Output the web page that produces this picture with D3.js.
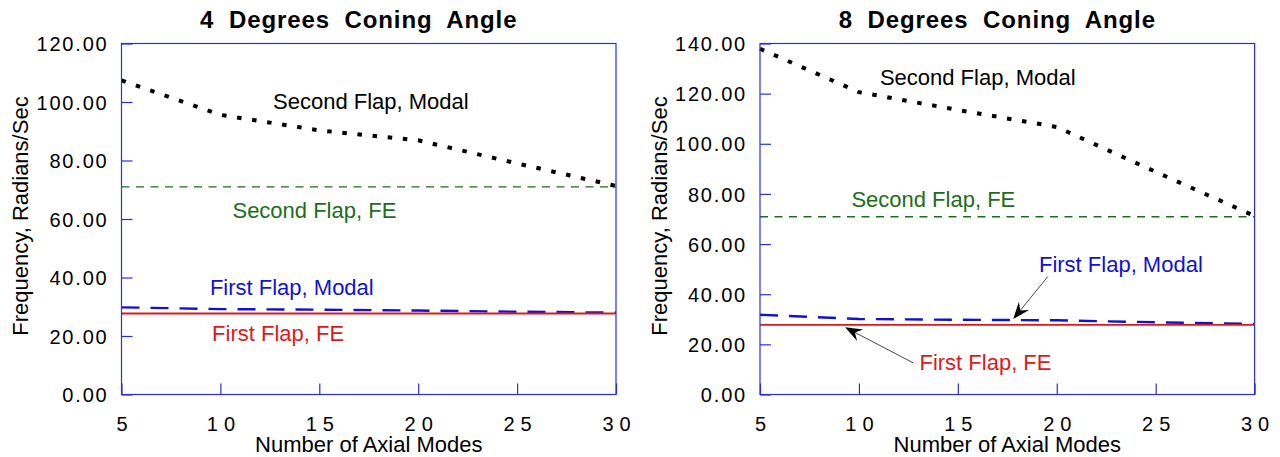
<!DOCTYPE html>
<html>
<head>
<meta charset="utf-8">
<script src="https://cdn.jsdelivr.net/npm/d3@7"></script>
<style>
  body { margin: 0; background: #fff; }
  svg text { font-family: "Liberation Sans", Arial, Helvetica, sans-serif; }
</style>
</head>
<body>
<svg id="chart" width="1280" height="457"></svg>
<script>
// x values (number of axial modes)
const axialModes = [5, 10, 15, 20, 25, 30];
const xTicks = [5, 10, 15, 20, 25, 30];

// 4 degrees coning angle
const secondModal4 = [107.4, 95.6, 90.3, 86.9, 79.0, 71.3];
const secondFE4 = [71.0, 71.0, 71.0, 71.0, 71.0, 71.0];
const firstModal4 = [29.8, 29.2, 29.0, 28.7, 28.3, 28.0];
const firstFE4 = [27.7, 27.7, 27.7, 27.7, 27.7, 27.7];
const yTicks4 = [0, 20, 40, 60, 80, 100, 120];

// 8 degrees coning angle
const secondModal8 = [137.9, 120.6, 113.5, 106.7, 88.8, 71.2];
const secondFE8 = [70.9, 70.9, 70.9, 70.9, 70.9, 70.9];
const firstModal8 = [31.8, 30.1, 29.8, 29.6, 28.8, 28.1];
const firstFE8 = [27.8, 27.8, 27.8, 27.8, 27.8, 27.8];
const yTicks8 = [0, 20, 40, 60, 80, 100, 120, 140];

// label text + anchor (data coords)
const labels4 = [
  { text: "Second Flap, Modal", x: 12.66, y: 97.5, color: "#000" },
  { text: "Second Flap, FE", x: 10.61, y: 60.3, color: "#1b6e1b" },
  { text: "First Flap, Modal", x: 9.47, y: 34.1, color: "#1010d8" },
  { text: "First Flap, FE", x: 9.58, y: 18.2, color: "#e01818" }
];
const labels8 = [
  { text: "Second Flap, Modal", x: 11.06, y: 123.3, color: "#000" },
  { text: "Second Flap, FE", x: 9.62, y: 74.9, color: "#1b6e1b" },
  { text: "First Flap, Modal", x: 19.1, y: 49.0, color: "#1010d8" },
  { text: "First Flap, FE", x: 13.06, y: 9.9, color: "#e01818" }
];
const arrows8 = [
  { x1: 19.55, y1: 47.05, x2: 17.8, y2: 30.1 },
  { x1: 12.75, y1: 12.6, x2: 9.3, y2: 26.8 }
];

const svg = d3.select("#chart");
const plotTop = 43.5, plotBottom = 394.5;
const axisColor = "#2b2bf0";

const styles = {
  secondModal: { stroke: "#000", width: 4, dash: "4.5 10.7" },
  secondFE: { stroke: "#1b6e1b", width: 1.4, dash: "8 6.5" },
  firstModal: { stroke: "#1010d8", width: 2.4, dash: "18 11" },
  firstFE: { stroke: "#e01818", width: 1.8, dash: null }
};

function drawPanel(p) {
  const x = d3.scaleLinear().domain([5, 30]).range([p.left, p.right]);
  const y = d3.scaleLinear().domain([0, p.yMax]).range([plotBottom, plotTop]);
  const g = svg.append("g");

  // title
  g.append("text")
    .attr("x", (p.left + p.right) / 2 - 10)
    .attr("y", 28)
    .attr("text-anchor", "middle")
    .style("font-size", "24px")
    .style("font-weight", "bold")
    .style("letter-spacing", "0.9px")
    .style("word-spacing", "7px")
    .text(p.title);

  // series
  const line = d3.line().x((d, i) => x(axialModes[i])).y(d => y(d));
  p.series.forEach(s => {
    const st = styles[s.key];
    g.append("path")
      .datum(s.values)
      .attr("d", line)
      .attr("fill", "none")
      .attr("stroke", st.stroke)
      .attr("stroke-width", st.width)
      .attr("stroke-dasharray", st.dash);
  });

  // box
  g.append("rect")
    .attr("x", p.left).attr("y", plotTop)
    .attr("width", p.right - p.left).attr("height", plotBottom - plotTop)
    .attr("fill", "none")
    .attr("stroke", axisColor)
    .attr("stroke-width", 1.2);

  // y axis (ticks inward)
  const yAxis = d3.axisLeft(y).tickValues(p.yTicks).tickSizeInner(-11).tickSizeOuter(0)
    .tickPadding(13).tickFormat(d3.format(".2f"));
  const ya = g.append("g").attr("transform", `translate(${p.left},0)`).call(yAxis);
  ya.select(".domain").remove();
  ya.selectAll("line").attr("stroke", axisColor).attr("stroke-width", 1.2);
  ya.selectAll("text")
    .attr("fill", "#000")
    .style("font-size", "20px")
    .style("letter-spacing", "1.8px")
    .attr("dy", "0.36em");

  // x axis (ticks inward)
  const xAxis = d3.axisBottom(x).tickValues(xTicks).tickSizeInner(-11).tickSizeOuter(0)
    .tickPadding(0);
  const xa = g.append("g").attr("transform", `translate(0,${plotBottom})`).call(xAxis);
  xa.select(".domain").remove();
  xa.selectAll("line").attr("stroke", axisColor).attr("stroke-width", 1.2);
  xa.selectAll("text")
    .attr("fill", "#000")
    .attr("y", 36).attr("dy", 0)
    .attr("dx", 3)
    .style("font-size", "20px")
    .style("letter-spacing", "6px");

  // axis titles
  g.append("text")
    .attr("x", (p.left + p.right) / 2)
    .attr("y", 452)
    .attr("text-anchor", "middle")
    .style("font-size", "22px")
    .text("Number of Axial Modes");

  g.append("text")
    .attr("transform", `translate(${p.left - 93.5},216) rotate(-90)`)
    .attr("text-anchor", "middle")
    .style("font-size", "22px")
    .text("Frequency, Radians/Sec");

  // labels
  p.labels.forEach(l => {
    g.append("text")
      .attr("x", x(l.x)).attr("y", y(l.y))
      .attr("fill", l.color)
      .style("font-size", "22px")
      .text(l.text);
  });

  // arrows
  p.arrows.forEach(a => {
    const x1 = x(a.x1), y1 = y(a.y1), x2 = x(a.x2), y2 = y(a.y2);
    const len = Math.hypot(x2 - x1, y2 - y1);
    const ux = (x2 - x1) / len, uy = (y2 - y1) / len;
    const nx = -uy, ny = ux;
    const L = 17, W = 6.5;
    g.append("line")
      .attr("x1", x1).attr("y1", y1)
      .attr("x2", x2 - ux * L * 0.6).attr("y2", y2 - uy * L * 0.6)
      .attr("stroke", "#333").attr("stroke-width", 0.9);
    const pts = [
      [x2, y2],
      [x2 - ux * L + nx * W, y2 - uy * L + ny * W],
      [x2 - ux * L * 0.65, y2 - uy * L * 0.65],
      [x2 - ux * L - nx * W, y2 - uy * L - ny * W]
    ];
    g.append("path")
      .attr("d", "M" + pts.map(q => q.join(",")).join("L") + "Z")
      .attr("fill", "#000");
  });
}

drawPanel({
  left: 121.5, right: 616, yMax: 120, yTicks: yTicks4,
  title: "4 Degrees Coning Angle",
  series: [
    { key: "secondModal", values: secondModal4 },
    { key: "secondFE", values: secondFE4 },
    { key: "firstModal", values: firstModal4 },
    { key: "firstFE", values: firstFE4 }
  ],
  labels: labels4, arrows: []
});

drawPanel({
  left: 760, right: 1254.6, yMax: 140, yTicks: yTicks8,
  title: "8 Degrees Coning Angle",
  series: [
    { key: "secondModal", values: secondModal8 },
    { key: "secondFE", values: secondFE8 },
    { key: "firstModal", values: firstModal8 },
    { key: "firstFE", values: firstFE8 }
  ],
  labels: labels8, arrows: arrows8
});
</script>
</body>
</html>
